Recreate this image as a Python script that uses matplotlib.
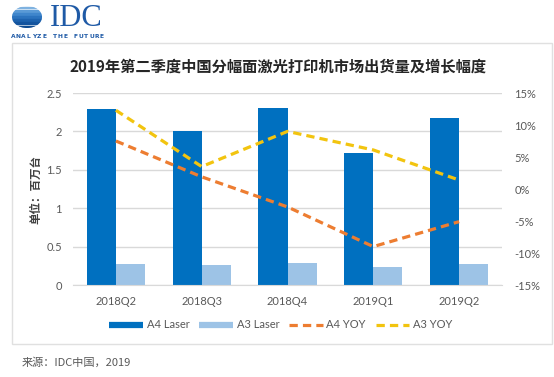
import matplotlib
matplotlib.use("Agg")
import matplotlib.pyplot as plt
import numpy as np
from matplotlib.patches import Rectangle, Ellipse
from matplotlib.lines import Line2D

categories = ["2018Q2", "2018Q3", "2018Q4", "2019Q1", "2019Q2"]
a4_laser = [2.29, 2.01, 2.31, 1.72, 2.18]
a3_laser = [0.27, 0.265, 0.29, 0.23, 0.27]
a4_yoy = [7.5, 1.9, -2.8, -9.0, -5.1]
a3_yoy = [12.3, 3.5, 9.0, 6.1, 1.4]
left_ticks = [0, 0.5, 1, 1.5, 2, 2.5]
left_labels = ["0", "0.5", "1", "1.5", "2", "2.5"]
right_ticks = [-15, -10, -5, 0, 5, 10, 15]
right_labels = ["-15%", "-10%", "-5%", "0%", "5%", "10%", "15%"]
series_names = ["A4 Laser", "A3 Laser", "A4 YOY", "A3 YOY"]
title = "2019年第二季度中国分幅面激光打印机市场出货量及增长幅度"
ylabel = "单位：百万台"
source = "来源：IDC中国，2019"
tagline = "ANALYZE THE FUTURE"

C_A4 = "#0070C0"
C_A3 = "#9DC3E6"
C_A4Y = "#ED7D31"
C_A3Y = "#F2C40F"
GRAY = "#595959"
GRID = "#D9D9D9"

W, H = 554, 377
fig = plt.figure(figsize=(W / 100, H / 100), dpi=100)
fig.patch.set_facecolor("white")

def fx(px):
    return px / W

def fy(py):
    return 1 - py / H

# frame
fig.add_artist(Rectangle((fx(12), fy(344)), fx(552) - fx(12), fy(43) - fy(344),
                         transform=fig.transFigure, fill=False, edgecolor="#E0E0E0", lw=1))

# logo: striped globe
logo = fig.add_axes([fx(12), fy(28), fx(42) - fx(12), fy(6) - fy(28)])
logo.set_xlim(-1, 1)
logo.set_ylim(-1, 1)
logo.axis("off")
clip = Ellipse((0, 0), 2, 2, transform=logo.transData)
stripe_cols = ["#7FB2E0", "#5A9AD6", "#3F86CC", "#2B73BE", "#1D62AE", "#14549E", "#0E4A90"]
ys = np.linspace(1, -1, 8)
for i in range(7):
    r = Rectangle((-1, ys[i + 1] + 0.06), 2, ys[i] - ys[i + 1] - 0.12, color=stripe_cols[i])
    r.set_clip_path(clip)
    logo.add_patch(r)
fig.text(fx(50), fy(18), "IDC", family="Liberation Serif", fontsize=22, color="#1F5AA6",
         ha="left", va="center")
n = len(tagline)
for i, ch in enumerate(tagline):
    fig.text(fx(13 + i * (89 / (n - 1))), fy(36), ch, family="DejaVu Sans", fontsize=4.3,
             fontweight="bold", color="#1F5AA6", ha="center", va="center")

# main axes
ax = fig.add_axes([fx(73), fy(285), fx(502) - fx(73), fy(93) - fy(285)])
x = np.arange(len(categories))
w = 0.34
ax.bar(x - w / 2, a4_laser, width=w, color=C_A4, zorder=2)
ax.bar(x + w / 2, a3_laser, width=w, color=C_A3, zorder=2)
ax.set_xlim(-0.5, len(categories) - 0.5)
ax.set_ylim(0, 2.5)
ax.set_yticks(left_ticks)
ax.set_yticklabels(left_labels)
ax.set_xticks(x)
ax.set_xticklabels(categories)
ax.grid(axis="y", color=GRID, lw=1, zorder=0)
ax.set_axisbelow(True)
for s in ["top", "right", "left"]:
    ax.spines[s].set_visible(False)
ax.spines["bottom"].set_color(GRID)
ax.tick_params(axis="both", length=0, colors=GRAY, labelsize=8)
ax.tick_params(axis="y", pad=8)
ax.tick_params(axis="x", pad=8)
for lab in ax.get_xticklabels() + ax.get_yticklabels():
    lab.set_family("Lato")

ax2 = ax.twinx()
ax2.set_ylim(-15, 15)
ax2.set_yticks(right_ticks)
ax2.set_yticklabels(right_labels)
for s in ax2.spines.values():
    s.set_visible(False)
ax2.tick_params(axis="y", length=0, colors=GRAY, labelsize=8, pad=9)
for lab in ax2.get_yticklabels():
    lab.set_family("Lato")
dash = (0, (2.6, 1.6))
ax2.plot(x, a4_yoy, color=C_A4Y, lw=2.3, linestyle=dash, zorder=3)
ax2.plot(x, a3_yoy, color=C_A3Y, lw=2.3, linestyle=dash, zorder=3)

# title, labels
fig.text(fx(278), fy(67), title, family=["Noto Sans CJK SC", "DejaVu Sans"], fontsize=11,
         fontweight="bold", color="#262626", ha="center", va="center")
fig.text(fx(36), fy(190), ylabel, family=["Noto Sans CJK SC", "DejaVu Sans"], fontsize=8.3,
         fontweight="bold", color="#404040", rotation=90, ha="center", va="center")
fig.text(fx(22), fy(362), source, family=["Noto Sans CJK SC", "DejaVu Sans"], fontsize=8,
         color=GRAY, ha="left", va="center")

# legend
handles = [
    Line2D([0], [0], color=C_A4, lw=4.5, solid_capstyle="butt"),
    Line2D([0], [0], color=C_A3, lw=4.5, solid_capstyle="butt"),
    Line2D([0], [0], color=C_A4Y, lw=2.3, linestyle=(0, (2.6, 1.6))),
    Line2D([0], [0], color=C_A3Y, lw=2.3, linestyle=(0, (2.6, 1.6))),
]
leg = fig.legend(handles, series_names, loc="center", bbox_to_anchor=(fx(281), fy(325)),
                 ncol=4, frameon=False, handlelength=3.0, handletextpad=0.35,
                 columnspacing=0.9, prop={"family": "Lato", "size": 8})
for t in leg.get_texts():
    t.set_color(GRAY)

fig.savefig("out.png", dpi=100, facecolor="white")
